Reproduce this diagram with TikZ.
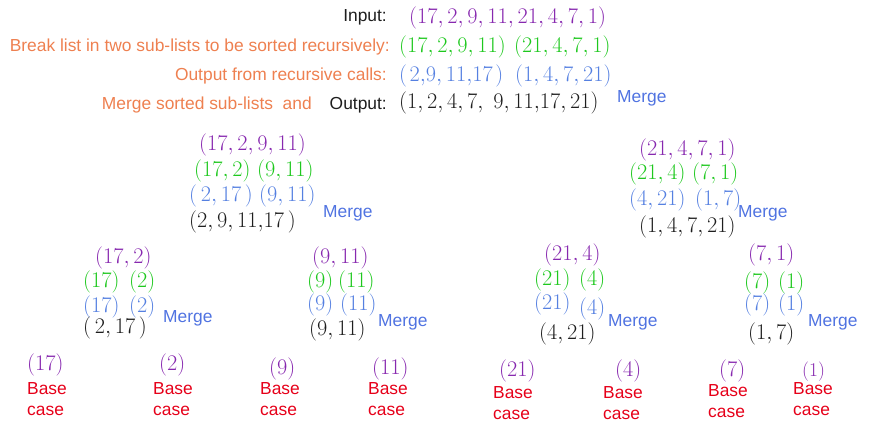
\RequirePackage{fix-cm}
\documentclass[tikz,border=0pt]{standalone}
\usepackage{fontspec}
\newfontfamily\lsans{Liberation Sans}
\definecolor{cpur}{RGB}{135,40,175}
\definecolor{cgrn}{RGB}{30,200,30}
\definecolor{cblu}{RGB}{85,128,225}
\definecolor{cblk}{RGB}{30,30,30}
\definecolor{corg}{RGB}{238,128,80}
\definecolor{cred}{RGB}{230,0,25}
\definecolor{cmrg}{RGB}{80,115,225}
\tikzset{
  mth/.style={anchor=west, inner sep=0pt, font=\fontsize{22.3}{26}\selectfont},
  pu/.style={mth, text=cpur},
  gr/.style={mth, text=cgrn},
  bl/.style={mth, text=cblu},
  bk/.style={mth, text=cblk},
  lab/.style={inner sep=0pt, font=\lsans\fontsize{17.4}{20}\selectfont},
  org/.style={lab, text=corg, anchor=east},
  mrg/.style={lab, text=cmrg, anchor=west},
  base/.style={lab, text=cred, anchor=west, align=left, font=\lsans\fontsize{17.4}{20.5}\selectfont},
}
\begin{document}
\begin{tikzpicture}[x=1pt,y=-1pt]
\useasboundingbox (0,0) rectangle (870,438);
% header
\node[lab, text=cblk, anchor=east] (lin) at (387,17) {Input:};
\node[pu] (tin) at (409,18) {$(17,2,9,11,21,4,7,1)$};
\node[org] (lbr) at (390,47) {Break list in two sub-lists to be sorted recursively:};
\node[gr] (tg1) at (399,47) {$(17,2,9,11)$};
\node[gr] (tg2) at (514,47) {$(21,4,7,1)$};
\node[org] (lrc) at (387,76) {Output from recursive calls:};
\node[bl] (tb1) at (399,76) {$(\mkern2mu 2{,}9,11{,}17\mkern2mu)$};
\node[bl] (tb2) at (515,76) {$(1,4,7,21)$};
\node[lab, text=cblk, anchor=east] (lout) at (387,105) {Output:};
\node[org] (lms) at (312,105) {Merge sorted sub-lists\ \ and};
\node[bk] (tk) at (399,103) {$(1,2,4,7,\;9,11{,}17,21)$};
\node[mrg] (tm) at (617,98) {Merge};
% level 2 left
\node[pu] (lp) at (199,145) {$(17,2,9,11)$};
\node[gr] (lg1) at (194,171) {$(17,2)$};
\node[gr] (lg2) at (257,171) {$(9,11)$};
\node[bl] (lb1) at (189,196) {$(\,2,17\,)$};
\node[bl] (lb2) at (259,196) {$(9,11)$};
\node[bk] (lk) at (189,222) {$(2,9,11{,}17\,)$};
\node[mrg] (lm) at (323,213) {Merge};
% level 2 right
\node[pu] (rp) at (639,150) {$(21,4,7,1)$};
\node[gr] (rg1) at (629,174) {$(21,4)$};
\node[gr] (rg2) at (692,174) {$(7,1)$};
\node[bl] (rb1) at (629,200) {$(4,21)$};
\node[bl] (rb2) at (695,200) {$(1,7)$};
\node[bk] (rk) at (639,227) {$(1,4,7,21)$};
\node[mrg] (rm) at (738,213) {Merge};
% level 3 a
\node[pu] (ap) at (95,258) {$(17,2)$};
\node[gr] (ag1) at (83,282) {$(17)$};
\node[gr] (ag2) at (129,282) {$(2)$};
\node[bl] (ab1) at (83,307) {$(17)$};
\node[bl] (ab2) at (129,307) {$(2)$};
\node[bk] (ak) at (83,328) {$(\,2,17\,)$};
\node[mrg] (am) at (163,318) {Merge};
% level 3 b
\node[pu] (bp) at (312,258) {$(9,11)$};
\node[gr] (bg1) at (307,282) {$(9)$};
\node[gr] (bg2) at (338,282) {$(11)$};
\node[bl] (bb1) at (307,305) {$(9)$};
\node[bl] (bb2) at (340,305) {$(11)$};
\node[bk] (bk) at (309,330) {$(9,11)$};
\node[mrg] (bm) at (378,322) {Merge};
% level 3 c
\node[pu] (cp) at (544,255) {$(21,4)$};
\node[gr] (cg1) at (534,280) {$(21)$};
\node[gr] (cg2) at (579,280) {$(4)$};
\node[bl] (cb1) at (534,304) {$(21)$};
\node[bl] (cb2) at (579,309) {$(4)$};
\node[bk] (ck) at (539,334) {$(4,21)$};
\node[mrg] (cm) at (608,322) {Merge};
% level 3 d
\node[pu] (dp) at (748,255) {$(7,1)$};
\node[gr] (dg1) at (744,283) {$(7)$};
\node[gr] (dg2) at (778,283) {$(1)$};
\node[bl] (db1) at (744,305) {$(7)$};
\node[bl] (db2) at (778,305) {$(1)$};
\node[bk] (dk) at (748,334) {$(1,7)$};
\node[mrg] (dm) at (808,322) {Merge};
% base cases
\node[pu] (e1) at (27,365) {$(17)$};
\node[base] (f1) at (27,399) {Base\\case};
\node[pu] (e2) at (159,365) {$(2)$};
\node[base] (f2) at (153,399) {Base\\case};
\node[pu] (e3) at (269,369) {$(9)$};
\node[base] (f3) at (260,399) {Base\\case};
\node[pu] (e4) at (372,369) {$(11)$};
\node[base] (f4) at (368,399) {Base\\case};
\node[pu] (e5) at (499,371) {$(21)$};
\node[base] (f5) at (493,403) {Base\\case};
\node[pu] (e6) at (615,371) {$(4)$};
\node[base] (f6) at (603,403) {Base\\case};
\node[pu] (e7) at (719,371) {$(7)$};
\node[base] (f7) at (708,401) {Base\\case};
\node[pu, font=\fontsize{19.5}{22}\selectfont] (e8) at (802,372) {$(1)$};
\node[base] (f8) at (793,399) {Base\\case};
\end{tikzpicture}
\end{document}
